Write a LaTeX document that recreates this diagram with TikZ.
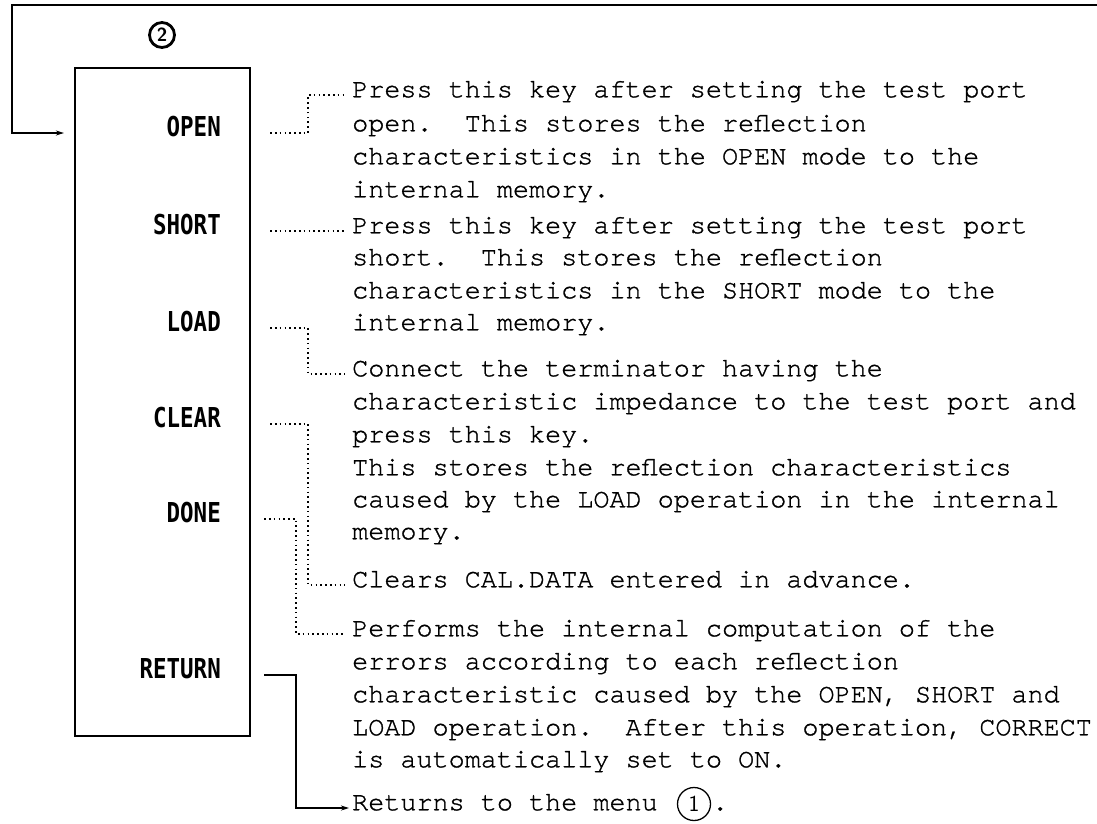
\documentclass[tikz,border=0pt]{standalone}
\usepackage{fontspec}
\IfFontExistsTF{TeX Gyre Cursor}
  {\newfontfamily\descfont[FakeBold=1.1]{TeX Gyre Cursor}}
  {\newfontfamily\descfont[FakeBold=1.1]{Latin Modern Mono}}
\newfontfamily\keyfont[FakeStretch=0.82]{DejaVu Sans Mono Bold}
\usetikzlibrary{arrows.meta}
\begin{document}
\begin{tikzpicture}[x=1pt,y=-1pt,
  desc/.style={anchor=west, inner sep=0pt, font=\descfont\fontsize{26.8}{32}\selectfont, text height=0.45em, text depth=0pt},
  key/.style={anchor=east, inner sep=0pt, font=\keyfont\fontsize{27.4}{27.4}\selectfont, text height=0.73em, text depth=0pt},
  boxline/.style={draw, line width=2.2pt},
  loopline/.style={line width=2pt, line join=miter},
  dotline/.style={line width=1.6pt, dash pattern=on 1.6pt off 3.2pt},
  tip/.style={-{Stealth[length=8pt,width=5pt]}},
  circnum/.style={circle, draw, inner sep=0pt}
]
\useasboundingbox (0,0) rectangle (1097,823);

% menu box
\node[boxline, minimum width=175pt, minimum height=668pt, inner sep=0pt] (box) at (162.5,402) {};
\node[circnum, line width=2.8pt, minimum size=25pt, font=\sffamily\bfseries\fontsize{19}{19}\selectfont] (num2) at (162,35) {2};

% key labels
\node[key] (kopen)   at (221,133) {OPEN};
\node[key] (kshort)  at (221,231) {SHORT};
\node[key] (kload)   at (221,328) {LOAD};
\node[key] (kclear)  at (221,424) {CLEAR};
\node[key] (kdone)   at (221,519) {DONE};
\node[key] (kreturn) at (221,675) {RETURN};

% descriptions
\node[desc] (t1)  at (352,95)  {Press this key after setting the test port};
\node[desc] (t2)  at (352,129) {open.\ \ This stores the reflection};
\node[desc] (t3)  at (352,162) {characteristics in the OPEN mode to the};
\node[desc] (t4)  at (352,195) {internal memory.};
\node[desc] (t5)  at (352,231) {Press this key after setting the test port};
\node[desc] (t6)  at (352,263) {short.\ \ This stores the reflection};
\node[desc] (t7)  at (352,296) {characteristics in the SHORT mode to the};
\node[desc] (t8)  at (352,328) {internal memory.};
\node[desc] (t9)  at (352,374) {Connect the terminator having the};
\node[desc] (t10) at (352,407) {characteristic impedance to the test port and};
\node[desc] (t11) at (352,440) {press this key.};
\node[desc] (t12) at (352,473) {This stores the reflection characteristics};
\node[desc] (t13) at (352,505) {caused by the LOAD operation in the internal};
\node[desc] (t14) at (352,537) {memory.};
\node[desc] (t15) at (352,585) {Clears CAL.DATA entered in advance.};
\node[desc] (t16) at (352,634) {Performs the internal computation of the};
\node[desc] (t17) at (352,667) {errors according to each reflection};
\node[desc] (t18) at (352,700) {characteristic caused by the OPEN, SHORT and};
\node[desc] (t19) at (352,733) {LOAD operation.\ \ After this operation, CORRECT};
\node[desc] (t20) at (352,765) {is automatically set to ON.};
\node[desc] (t21) at (352,808) {Returns to the menu};
\node[circnum, line width=1.3pt, minimum size=33pt, font=\sffamily\fontsize{23}{23}\selectfont] (c1) at (694,804) {1};
\node[desc] (t21b) at (712,808) {.};

% loop back from the top to OPEN
\coordinate (rt) at (1097,5);
\coordinate (lt) at (12,5);
\draw[loopline, tip] (rt) -- (lt) |- ([xshift=-10pt]box.west |- kopen);

% connectors
\draw[dotline] ([xshift=19pt]box.east |- kopen) -- ++(38,0) |- ([xshift=-7pt]t1.west);
\draw[dotline] ([xshift=19pt]box.east |- kshort) -- ([xshift=-7pt]t5.west);
\draw[dotline] ([xshift=19pt]box.east |- kload) -- ++(38,0) |- ([xshift=-7pt]t9.west);
\draw[dotline] ([xshift=19pt]box.east |- kclear) -- ++(38,0) |- ([xshift=-7pt]t15.west);
\draw[dotline] ([xshift=13pt]box.east |- kdone) -- ++(32,0) |- ([xshift=-7pt]t16.west);
\draw[line width=1.6pt, tip] ([xshift=13pt]box.east |- kreturn) -- ++(32,0) |- ([xshift=-3pt]t21.west);
\end{tikzpicture}
\end{document}
